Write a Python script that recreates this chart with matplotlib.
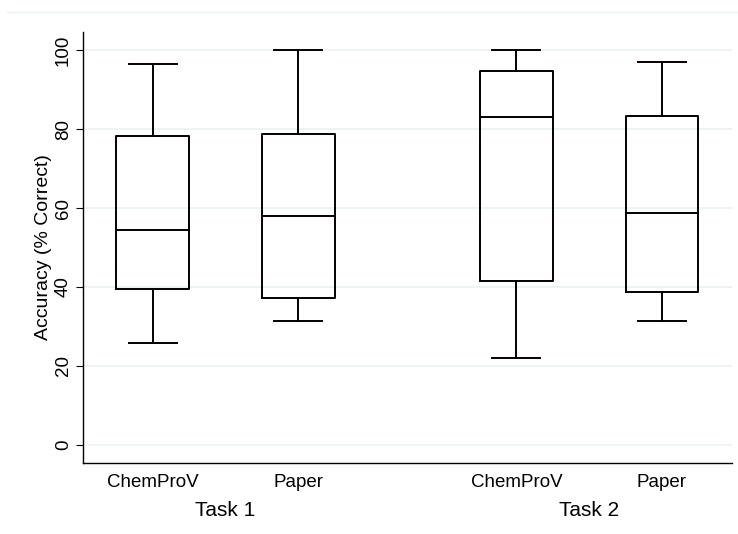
import matplotlib
matplotlib.use('Agg')
import matplotlib.pyplot as plt
from matplotlib.lines import Line2D
import matplotlib.transforms as mtransforms

plt.rcParams['font.family'] = ['Liberation Sans', 'DejaVu Sans']

# values
conditions = ['ChemProV', 'Paper', 'ChemProV', 'Paper']
tasks = ['Task 1', 'Task 2']
positions = [1, 2, 3.5, 4.5]
whisker_lo = [25.7, 31.4, 22.1, 31.3]
q1 = [39.6, 37.3, 41.6, 38.6]
median = [54.5, 58.0, 83.0, 58.7]
q3 = [78.2, 78.8, 94.7, 83.3]
whisker_hi = [96.4, 100.0, 100.0, 97.1]
yticks = [0, 20, 40, 60, 80, 100]

stats = []
for i in range(len(conditions)):
    stats.append(dict(label=conditions[i], whislo=whisker_lo[i], q1=q1[i], med=median[i],
                      q3=q3[i], whishi=whisker_hi[i], fliers=[]))

fig = plt.figure(figsize=(7.38, 5.34), dpi=100)
fig.patch.set_facecolor('white')
ax = fig.add_axes([0.1125, 0.133, 0.879, 0.807])

lw = 1.4
ax.bxp(stats, positions=positions, widths=0.5, showfliers=False,
       boxprops=dict(color='black', linewidth=lw),
       medianprops=dict(color='black', linewidth=lw),
       whiskerprops=dict(color='black', linewidth=lw),
       capprops=dict(color='black', linewidth=lw),
       capwidths=0.33)

ax.set_xlim(0.52, 4.98)
ax.set_ylim(-4.6, 104.6)
ax.set_yticks(yticks)
ax.set_yticklabels([str(t) for t in yticks], rotation=90, va='center', fontsize=13.5)
ax.yaxis.grid(True, color='#eaf2f3', linewidth=1.2)
ax.set_axisbelow(True)
ax.tick_params(axis='y', length=5, width=0.8, pad=3)
ax.tick_params(axis='x', length=0, pad=8, labelsize=13.5)
ax.set_ylabel('Accuracy (% Correct)', fontsize=14, labelpad=2)

for s in ['top', 'right']:
    ax.spines[s].set_visible(False)
ax.spines['left'].set_linewidth(1.0)
ax.spines['bottom'].set_linewidth(1.0)

# group labels under the conditions
trans = mtransforms.blended_transform_factory(ax.transData, fig.transFigure)
ax.text((positions[0] + positions[1]) / 2, 1 - 511 / 534, tasks[0], transform=trans,
        ha='center', va='center', fontsize=15)
ax.text((positions[2] + positions[3]) / 2, 1 - 511 / 534, tasks[1], transform=trans,
        ha='center', va='center', fontsize=15)

# faint frame line at the top of the graph region
fig.add_artist(Line2D([7 / 738, 1.0], [1 - 12 / 534, 1 - 12 / 534], transform=fig.transFigure,
                      color='#eaf2f3', linewidth=1.0))

fig.savefig('out.png', dpi=100)
plt.close()
